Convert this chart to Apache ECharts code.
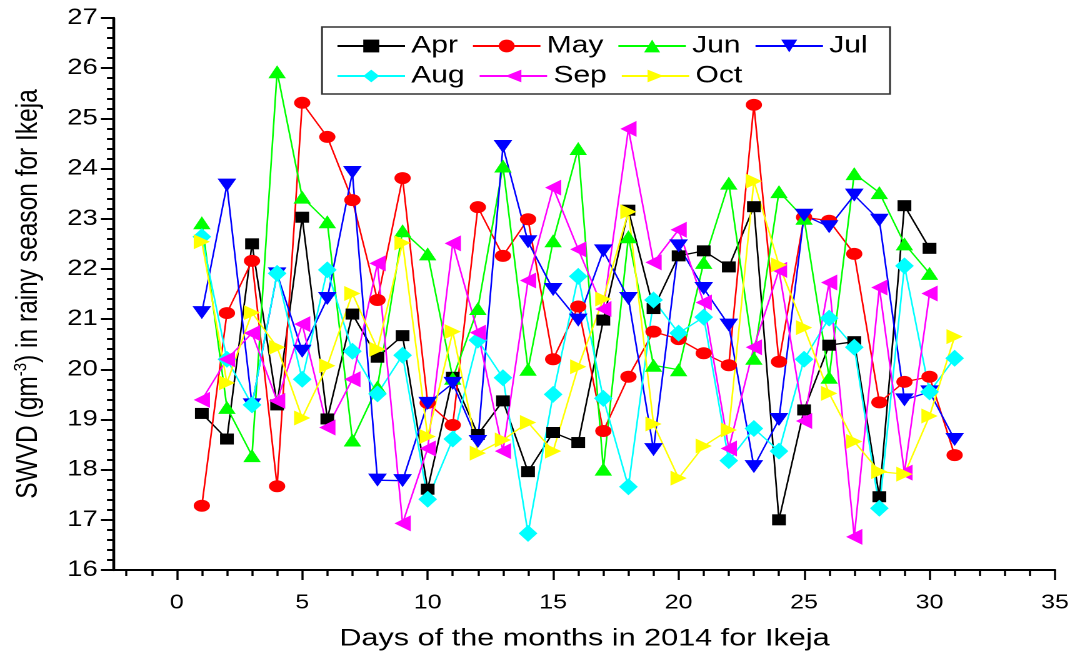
<!DOCTYPE html>
<html>
<head>
<meta charset="utf-8">
<title>SWVD Ikeja</title>
<script src="https://cdn.jsdelivr.net/npm/echarts@6/dist/echarts.min.js"></script>
<style>
    html, body { margin: 0; padding: 0; background: #fff; overflow: hidden; }
    /* the source figure is stretched sideways, so draw narrow and widen it */
    #container { width: 860px; height: 656px; transform: scaleX(1.25); transform-origin: 0 0; }
</style>
</head>
<body>
<div id="container"></div>
<script>
// values, day 1 .. end of month
var apr = [19.12, 18.61, 22.50, 19.29, 23.03, 19.01, 21.10, 20.24, 20.67, 17.61, 19.84, 18.70, 19.37, 17.96, 18.74,
    18.54, 20.98, 23.17, 21.21, 22.26, 22.36, 22.04, 23.24, 17.00, 19.19, 20.48, 20.55, 17.46, 23.26, 22.41];
var may = [17.28, 21.12, 22.16, 17.67, 25.31, 24.63, 23.37, 21.38, 23.81, 19.33, 18.89, 23.23, 22.26, 22.99, 20.20,
    21.25, 18.77, 19.85, 20.75, 20.60, 20.32, 20.08, 25.27, 20.15, 23.03, 22.96, 22.30, 19.34, 19.75, 19.85, 18.29];
var jun = [22.92, 19.24, 18.28, 25.93, 23.43, 22.94, 18.59, 19.65, 22.76, 22.30, 19.82, 21.21, 24.05, 20.00, 22.56,
    24.40, 18.01, 22.64, 20.08, 19.99, 22.13, 23.71, 20.22, 23.54, 23.01, 19.84, 23.90, 23.52, 22.50, 21.91];
var jul = [21.13, 23.67, 19.29, 21.90, 20.36, 21.41, 23.92, 17.79, 17.78, 19.32, 19.72, 18.56, 24.44, 22.54, 21.59,
    20.98, 22.36, 21.41, 18.40, 22.46, 21.61, 20.88, 18.06, 19.00, 23.07, 22.84, 23.47, 22.97, 19.39, 19.55, 18.60];
var aug = [22.64, 20.20, 19.29, 21.91, 19.80, 21.98, 20.36, 19.51, 20.28, 17.41, 18.61, 20.58, 19.83, 16.73, 19.50,
    21.85, 19.42, 17.66, 21.38, 20.72, 21.04, 18.18, 18.82, 18.37, 20.20, 21.02, 20.44, 17.23, 22.06, 19.55, 20.22];
var sep = [19.39, 20.20, 20.72, 19.37, 20.90, 18.84, 19.80, 22.11, 16.93, 18.42, 22.51, 20.73, 18.37, 21.77, 23.62,
    22.39, 21.20, 24.79, 22.13, 22.78, 21.33, 18.42, 20.44, 21.98, 18.97, 21.73, 16.66, 21.63, 17.94, 21.51];
var oct = [22.54, 19.73, 21.13, 20.44, 19.03, 20.07, 21.51, 20.40, 22.52, 18.66, 20.75, 18.33, 18.59, 18.94, 18.37,
    20.05, 21.40, 23.14, 18.91, 17.83, 18.47, 18.79, 23.75, 22.08, 20.83, 19.52, 18.56, 17.96, 17.91, 19.07, 20.65];

var legendRow1 = ['Apr', 'May', 'Jun', 'Jul'];
var legendRow2 = ['Aug', 'Sep', 'Oct'];
var xMajor = [0, 5, 10, 15, 20, 25, 30, 35];

var FONT = 'Liberation Sans, Arial, sans-serif';

function toPoints(values) {
    var pts = [];
    for (var i = 0; i < values.length; i++) {
        pts.push([i + 1, values[i]]);
    }
    return pts;
}

function minorList() {
    var out = [];
    for (var v = -2; v <= 35; v++) {
        if (v % 5 !== 0) out.push(v);
    }
    return out;
}

function makeSeries(name, values, color, symbol, size, rotate) {
    return {
        name: name,
        type: 'line',
        data: toPoints(values),
        symbol: symbol,
        symbolSize: size,
        symbolRotate: rotate,
        showAllSymbol: true,
        color: color,
        lineStyle: { color: color, width: 1.3 },
        itemStyle: { color: color },
        emphasis: { disabled: true },
        animation: false
    };
}

function makeLegend(names, top) {
    return {
        data: names,
        left: 269,
        top: top,
        orient: 'horizontal',
        itemWidth: 54,
        itemHeight: 16,
        itemGap: 11,
        padding: 0,
        selectedMode: false,
        textStyle: { fontSize: 24, color: '#000', fontFamily: FONT, lineHeight: 26 }
    };
}

var dom = document.getElementById('container');
var myChart = echarts.init(dom, null, { renderer: 'canvas', devicePixelRatio: 2 });

var option = {
    backgroundColor: '#ffffff',
    animation: false,
    textStyle: { fontFamily: FONT },
    grid: { left: 91.2, right: 16, top: 18, bottom: 86, containLabel: false, outerBoundsMode: 'none' },
    legend: [makeLegend(legendRow1, 33), makeLegend(legendRow2, 63)],
    graphic: [{
        type: 'rect',
        shape: { x: 257.6, y: 27, width: 454.4, height: 67 },
        style: { fill: 'none', stroke: '#333', lineWidth: 1.5 },
        silent: true,
        z: 1
    }],
    xAxis: [
        {
            type: 'value',
            min: -2.5,
            max: 35,
            name: 'Days of the months in 2014 for Ikeja',
            nameLocation: 'middle',
            nameGap: 56,
            nameTextStyle: { fontSize: 24.5, color: '#000', fontFamily: FONT },
            splitLine: { show: false },
            axisLine: { show: true, onZero: false, lineStyle: { color: '#000', width: 2 } },
            axisTick: { show: true, customValues: xMajor, length: 10, lineStyle: { color: '#000', width: 1.7 } },
            axisLabel: { customValues: xMajor, fontSize: 20, color: '#000', margin: 23, fontFamily: FONT }
        },
        {
            // second copy only carries the short minor ticks
            type: 'value',
            min: -2.5,
            max: 35,
            position: 'bottom',
            splitLine: { show: false },
            axisLine: { show: false },
            axisLabel: { show: false },
            axisTick: { show: true, customValues: minorList(), length: 6, lineStyle: { color: '#000', width: 1.7 } }
        }
    ],
    yAxis: {
        type: 'value',
        min: 16,
        max: 27,
        interval: 1,
        name: '{a|SWVD (gm}{s|-3}{a|) in rainy season for Ikeja}',
        nameLocation: 'middle',
        nameGap: 55,
        nameRotate: 90,
        nameTextStyle: {
            rich: {
                a: { fontSize: 24.5, color: '#000', fontFamily: FONT },
                s: { fontSize: 15, color: '#000', fontFamily: FONT, verticalAlign: 'top', padding: [0, 0, 12, 0] }
            }
        },
        splitLine: { show: false },
        axisLine: { show: true, onZero: false, lineStyle: { color: '#000', width: 2.3 } },
        axisTick: { show: true, length: 10.5, lineStyle: { color: '#000', width: 2 } },
        minorTick: { show: true, splitNumber: 5, length: 5.6, lineStyle: { color: '#000', width: 2 } },
        axisLabel: { fontSize: 22, color: '#000', margin: 13, fontFamily: FONT }
    },
    series: [
        makeSeries('Apr', apr, '#000000', 'rect', [11, 11], 0),
        makeSeries('May', may, '#ff0000', 'circle', [13, 12], 0),
        makeSeries('Jun', jun, '#00ff00', 'triangle', [14, 13], 0),
        makeSeries('Jul', jul, '#0000ff', 'triangle', [15, 13], 180),
        makeSeries('Aug', aug, '#00ffff', 'diamond', [15, 17], 0),
        makeSeries('Sep', sep, '#ff00ff', 'triangle', [16, 13], 90),
        makeSeries('Oct', oct, '#ffff00', 'triangle', [15, 13], -90)
    ]
};

if (option && typeof option === 'object') {
    myChart.setOption(option, true);
}
</script>
</body>
</html>
